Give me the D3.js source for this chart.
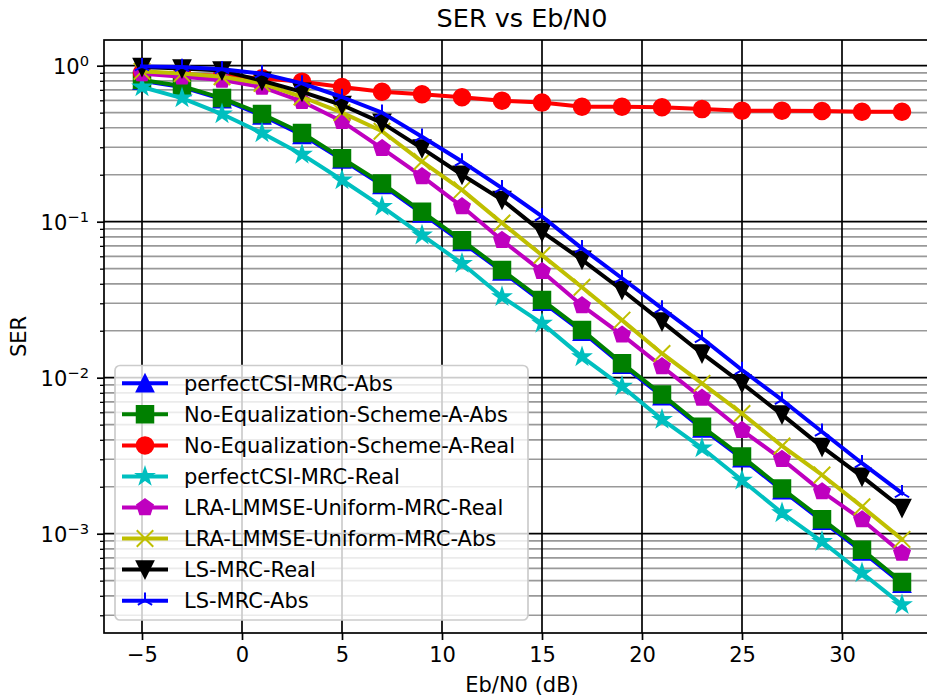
<!DOCTYPE html>
<html>
<head>
<meta charset="utf-8">
<script src="https://cdn.jsdelivr.net/npm/d3@7/dist/d3.min.js"></script>
<style>
  html, body { margin: 0; padding: 0; background: #fff; }
  svg { display: block; font-family: "DejaVu Sans", sans-serif; }
</style>
</head>
<body>
<svg id="chart" width="927" height="697"></svg>
<script>
// ---------- data ----------
const ebn0 = [-5, -3, -1, 1, 3, 5, 7, 9, 11, 13, 15, 17, 19, 21, 23, 25, 27, 29, 31, 33];

const perfectCSIMRCAbs = [0.80, 0.73, 0.61, 0.48, 0.36, 0.25, 0.172, 0.113, 0.074, 0.048, 0.0307, 0.0197, 0.0121, 0.0076, 0.00473, 0.00304, 0.0019, 0.00121, 0.00077, 0.000478];
const noEqSchemeAAbs = [0.81, 0.74, 0.62, 0.49, 0.37, 0.255, 0.176, 0.116, 0.076, 0.049, 0.0315, 0.0202, 0.0124, 0.0078, 0.00485, 0.00312, 0.00195, 0.00124, 0.00079, 0.00049];
const noEqSchemeAReal = [0.90, 0.88, 0.86, 0.83, 0.79, 0.73, 0.68, 0.656, 0.627, 0.597, 0.58, 0.546, 0.546, 0.541, 0.527, 0.515, 0.515, 0.512, 0.507, 0.507];
const perfectCSIMRCReal = [0.73, 0.62, 0.49, 0.37, 0.27, 0.185, 0.125, 0.082, 0.054, 0.033, 0.0223, 0.0136, 0.0088, 0.0054, 0.00354, 0.0022, 0.00136, 0.00089, 0.00056, 0.00035];
const lraLmmseReal = [0.89, 0.85, 0.81, 0.73, 0.59, 0.44, 0.295, 0.195, 0.125, 0.076, 0.048, 0.029, 0.0188, 0.0118, 0.0074, 0.0046, 0.0030, 0.00186, 0.00123, 0.00075];
const lraLmmseAbs = [0.92, 0.89, 0.85, 0.77, 0.63, 0.50, 0.38, 0.243, 0.16, 0.098, 0.061, 0.038, 0.0234, 0.0143, 0.0092, 0.0059, 0.00365, 0.00238, 0.00149, 0.00092];
const lsMRCReal = [0.98, 0.96, 0.93, 0.80, 0.68, 0.56, 0.43, 0.295, 0.20, 0.138, 0.086, 0.057, 0.0365, 0.0229, 0.0143, 0.0092, 0.0058, 0.0036, 0.00232, 0.00146];
const lsMRCAbs = [0.99, 0.98, 0.95, 0.89, 0.77, 0.63, 0.50, 0.35, 0.243, 0.164, 0.108, 0.0675, 0.0434, 0.0278, 0.0179, 0.0112, 0.0072, 0.0045, 0.00283, 0.00182];

const seriesNames = ["perfectCSI-MRC-Abs", "No-Equalization-Scheme-A-Abs", "No-Equalization-Scheme-A-Real",
  "perfectCSI-MRC-Real", "LRA-LMMSE-Uniform-MRC-Real", "LRA-LMMSE-Uniform-MRC-Abs", "LS-MRC-Real", "LS-MRC-Abs"];
const seriesValues = [perfectCSIMRCAbs, noEqSchemeAAbs, noEqSchemeAReal, perfectCSIMRCReal, lraLmmseReal, lraLmmseAbs, lsMRCReal, lsMRCAbs];
const seriesColors = ["#0000ff", "#008000", "#ff0000", "#00bfbf", "#bf00bf", "#bfbf00", "#000000", "#0000ff"];
const seriesMarkers = ["triUp", "square", "circle", "star", "pentagon", "x", "triDown", "tri2"];

const xTicks = [-5, 0, 5, 10, 15, 20, 25, 30];
const yMajorExp = [-3, -2, -1, 0];

const titleText = "SER vs Eb/N0";
const xLabelText = "Eb/N0 (dB)";
const yLabelText = "SER";

// ---------- layout ----------
const svg = d3.select("#chart");
const L = 104, T = 40, B = 633, R = 940;
const x = d3.scaleLinear().domain([-6.9, 34.9]).range([L, R]);
const y = d3.scaleLog().domain([Math.pow(10, -3.6365), Math.pow(10, 0.1647)]).range([B, T]);

const FS = 21;
const ms = 16.5;       // marker size
const mew = 2;         // marker edge width
const lw = 4;          // line width

// minor values
const yMinor = [];
for (let k = -4; k <= 0; k++) for (let m = 2; m <= 9; m++) {
  const v = m * Math.pow(10, k);
  if (v >= y.domain()[0] && v <= y.domain()[1]) yMinor.push(v);
}
const yMajor = yMajorExp.map(e => Math.pow(10, e));

// ---------- grid ----------
const grid = svg.append("g");
grid.selectAll(".gm").data(yMinor).join("line")
  .attr("x1", L).attr("x2", R).attr("y1", d => y(d)).attr("y2", d => y(d))
  .attr("stroke", "#999999").attr("stroke-width", 1.7);
grid.selectAll(".gM").data(yMajor).join("line")
  .attr("x1", L).attr("x2", R).attr("y1", d => y(d)).attr("y2", d => y(d))
  .attr("stroke", "#000").attr("stroke-width", 1.7);
grid.selectAll(".gx").data(xTicks).join("line")
  .attr("x1", d => x(d)).attr("x2", d => x(d)).attr("y1", T).attr("y2", B)
  .attr("stroke", "#000").attr("stroke-width", 1.7);

// ---------- markers ----------
function markerPath(type, r) {
  const p = d3.path();
  if (type === "circle") { p.arc(0, 0, r, 0, 2 * Math.PI); p.closePath(); }
  else if (type === "square") { p.rect(-r, -r, 2 * r, 2 * r); }
  else if (type === "triUp") { p.moveTo(0, -r); p.lineTo(-r, r); p.lineTo(r, r); p.closePath(); }
  else if (type === "triDown") { p.moveTo(0, r); p.lineTo(-r, -r); p.lineTo(r, -r); p.closePath(); }
  else if (type === "star" || type === "pentagon") {
    const n = 5, inner = 0.381966;
    const pts = [];
    if (type === "star") {
      for (let i = 0; i < 2 * n; i++) {
        const a = -Math.PI / 2 + i * Math.PI / n;
        const rr = i % 2 === 0 ? r : r * inner;
        pts.push([rr * Math.cos(a), rr * Math.sin(a)]);
      }
    } else {
      for (let i = 0; i < n; i++) {
        const a = -Math.PI / 2 + i * 2 * Math.PI / n;
        pts.push([r * Math.cos(a), r * Math.sin(a)]);
      }
    }
    pts.forEach((q, i) => i ? p.lineTo(q[0], q[1]) : p.moveTo(q[0], q[1]));
    p.closePath();
  }
  else if (type === "x") { p.moveTo(-r, -r); p.lineTo(r, r); p.moveTo(-r, r); p.lineTo(r, -r); }
  else if (type === "tri2") {
    p.moveTo(0, 0); p.lineTo(0, -r);
    p.moveTo(0, 0); p.lineTo(-r * 0.866, r * 0.5);
    p.moveTo(0, 0); p.lineTo(r * 0.866, r * 0.5);
  }
  return p.toString();
}
const strokeOnly = t => t === "x" || t === "tri2";

// ---------- series ----------
svg.append("defs").append("clipPath").attr("id", "clip")
  .append("rect").attr("x", L).attr("y", T).attr("width", R - L).attr("height", B - T);
const plot = svg.append("g").attr("clip-path", "url(#clip)");
const lineGen = d3.line().x(d => x(d[0])).y(d => y(d[1]));

seriesValues.forEach((vals, i) => {
  const pts = ebn0.map((e, j) => [e, vals[j]]);
  const g = plot.append("g");
  g.append("path").datum(pts).attr("d", lineGen)
    .attr("fill", "none").attr("stroke", seriesColors[i]).attr("stroke-width", lw)
    .attr("stroke-linejoin", "round").attr("stroke-linecap", "square");
  const mt = seriesMarkers[i];
  g.selectAll("path.m").data(pts).join("path").attr("class", "m")
    .attr("transform", d => `translate(${x(d[0])},${y(d[1])})`)
    .attr("d", markerPath(mt, ms / 2))
    .attr("fill", strokeOnly(mt) ? "none" : seriesColors[i])
    .attr("stroke", seriesColors[i]).attr("stroke-width", mew)
    .attr("stroke-linejoin", "miter");
});

// ---------- axes ----------
const xAxis = d3.axisBottom(x).tickValues(xTicks).tickSize(7).tickSizeOuter(0).tickPadding(7)
  .tickFormat(d => d < 0 ? "\u2212" + (-d) : String(d));
const gx = svg.append("g").attr("transform", `translate(0,${B})`).call(xAxis);
gx.select(".domain").remove();
gx.selectAll(".tick line").attr("stroke", "#000").attr("stroke-width", 1.7);
gx.selectAll(".tick text").attr("font-size", FS).attr("fill", "#000").attr("font-family", "DejaVu Sans");

const yAxisMajor = d3.axisLeft(y).tickValues(yMajor).tickSize(7).tickSizeOuter(0).tickFormat("");
const gyM = svg.append("g").attr("transform", `translate(${L},0)`).call(yAxisMajor);
gyM.select(".domain").remove();
gyM.selectAll(".tick line").attr("stroke", "#000").attr("stroke-width", 1.7);
const yAxisMinor = d3.axisLeft(y).tickValues(yMinor).tickSize(4).tickSizeOuter(0).tickFormat("");
const gym = svg.append("g").attr("transform", `translate(${L},0)`).call(yAxisMinor);
gym.select(".domain").remove();
gym.selectAll(".tick line").attr("stroke", "#000").attr("stroke-width", 1.3);

// y tick labels with superscripts
const yl = svg.append("g");
yMajorExp.forEach(e => {
  const t = yl.append("text").attr("x", 89).attr("y", y(Math.pow(10, e)) + 8.3)
    .attr("text-anchor", "end").attr("font-size", FS).attr("fill", "#000");
  t.append("tspan").text("10");
  t.append("tspan").attr("font-size", FS * 0.7).attr("dy", -8.3)
    .text(e < 0 ? "\u2212" + (-e) : String(e));
});

// spines
svg.append("rect").attr("x", L).attr("y", T).attr("width", R - L).attr("height", B - T)
  .attr("fill", "none").attr("stroke", "#000").attr("stroke-width", 1.7);

// labels
svg.append("text").attr("x", (L + R) / 2).attr("y", 27).attr("text-anchor", "middle")
  .attr("font-size", 25.5).attr("fill", "#000").text(titleText);
svg.append("text").attr("x", (L + R) / 2).attr("y", 692).attr("text-anchor", "middle")
  .attr("font-size", FS).attr("fill", "#000").text(xLabelText);
svg.append("text").attr("transform", `translate(26,${(T + B) / 2}) rotate(-90)`).attr("text-anchor", "middle")
  .attr("font-size", FS).attr("fill", "#000").text(yLabelText);

// ---------- legend ----------
const lg = svg.append("g");
lg.append("rect").attr("x", 115).attr("y", 365.5).attr("width", 413).attr("height", 254.5)
  .attr("rx", 5).attr("ry", 5).attr("fill", "#fff").attr("fill-opacity", 0.8)
  .attr("stroke", "#cccccc").attr("stroke-width", 1.7);
const legY0 = 383.3, legDy = 31.05;
seriesNames.forEach((name, i) => {
  const yy = legY0 + i * legDy;
  lg.append("line").attr("x1", 122).attr("x2", 168).attr("y1", yy).attr("y2", yy)
    .attr("stroke", seriesColors[i]).attr("stroke-width", lw);
  const mt = seriesMarkers[i];
  lg.append("path").attr("transform", `translate(145,${yy})`).attr("d", markerPath(mt, ms / 2))
    .attr("fill", strokeOnly(mt) ? "none" : seriesColors[i])
    .attr("stroke", seriesColors[i]).attr("stroke-width", mew);
  lg.append("text").attr("x", 184).attr("y", yy + 7.5).attr("font-size", FS).attr("fill", "#000").text(name);
});
</script>
</body>
</html>
